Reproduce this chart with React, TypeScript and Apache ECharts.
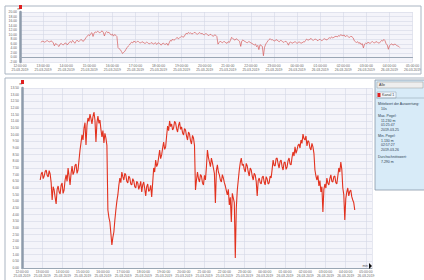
import React, { useEffect, useRef } from "react";
import * as echarts from "echarts";

// time tick labels (one per hour)
const tickLabels = [
  "12:00:00\n25.03.2019", "13:00:00\n25.03.2019", "14:00:00\n25.03.2019", "15:00:00\n25.03.2019",
  "16:00:00\n25.03.2019", "17:00:00\n25.03.2019", "18:00:00\n25.03.2019", "19:00:00\n25.03.2019",
  "20:00:00\n25.03.2019", "21:00:00\n25.03.2019", "22:00:00\n25.03.2019", "23:00:00\n25.03.2019",
  "00:00:00\n26.03.2019", "01:00:00\n26.03.2019", "02:00:00\n26.03.2019", "03:00:00\n26.03.2019",
  "04:00:00\n26.03.2019", "05:00:00\n26.03.2019",
];

// sampling of the recorded level (hours from 12:00)
const sampleStart = 0.9;
const sampleStep = 0.0492;

// water level in m
const levels = [
  6.60, 7.05, 7.20, 6.70, 6.90, 7.25, 7.35, 6.95, 6.83, 7.30,
  7.05, 6.40, 5.10, 6.10, 5.85, 5.30, 4.80, 5.90, 6.15, 5.70,
  5.55, 6.20, 6.38, 5.60, 5.85, 6.60, 6.98, 6.50, 7.50, 6.90,
  6.23, 7.10, 7.65, 7.00, 7.20, 7.70, 7.80, 7.10, 7.35, 8.10,
  8.85, 9.40, 9.98, 9.60, 10.50, 10.90, 9.23, 10.70, 11.25, 11.00,
  11.55, 11.20, 10.80, 11.35, 11.70, 11.10, 9.45, 10.90, 11.40, 10.85,
  11.10, 10.40, 9.83, 10.30, 9.38, 10.10, 9.75, 9.20, 4.35, 3.80,
  3.45, 2.60, 1.73, 2.30, 2.70, 3.60, 4.35, 5.00, 5.48, 6.20,
  6.75, 6.40, 7.20, 6.85, 6.60, 7.10, 6.98, 6.50, 6.38, 6.90,
  6.75, 6.30, 6.23, 6.70, 6.53, 6.10, 6.00, 6.50, 6.38, 5.90,
  6.15, 6.50, 5.70, 6.25, 6.45, 5.95, 5.40, 6.10, 6.30, 5.75,
  5.85, 6.20, 5.33, 6.40, 7.50, 7.20, 8.10, 7.60, 7.80, 8.30,
  8.85, 8.20, 8.48, 9.00, 9.45, 8.90, 9.08, 9.90, 10.65, 10.30,
  11.03, 10.60, 10.80, 10.35, 10.50, 11.00, 10.88, 10.45, 10.20, 10.70,
  10.95, 10.40, 10.58, 10.15, 9.98, 10.45, 10.35, 9.90, 9.60, 10.20,
  10.05, 9.55, 9.30, 9.95, 9.75, 9.20, 5.85, 6.60, 7.20, 6.70,
  6.45, 7.00, 6.90, 6.40, 6.23, 6.95, 6.60, 7.60, 8.85, 8.30,
  7.95, 7.60, 8.25, 7.90, 7.50, 7.10, 4.88, 7.30, 7.73, 7.20,
  6.98, 6.60, 6.45, 7.00, 6.75, 6.40, 6.15, 5.80, 5.48, 5.90,
  4.73, 5.30, 3.45, 5.60, 5.25, 4.90, 0.75, 4.50, 5.85, 6.60,
  7.35, 7.90, 8.25, 7.70, 7.80, 7.40, 7.20, 7.85, 7.65, 7.20,
  6.90, 7.50, 7.35, 6.90, 6.60, 7.10, 6.98, 6.50, 5.40, 6.55,
  6.75, 6.40, 6.30, 6.80, 6.90, 6.45, 6.23, 6.85, 6.68, 6.30,
  6.38, 6.90, 6.75, 7.40, 8.10, 7.70, 7.65, 8.20, 8.25, 7.80,
  7.50, 8.00, 8.10, 7.60, 7.35, 7.90, 7.95, 7.40, 7.58, 8.05,
  8.25, 7.80, 7.73, 8.30, 8.70, 8.40, 9.08, 8.60, 8.85, 9.20,
  9.30, 9.00, 9.60, 9.35, 10.05, 9.70, 9.60, 9.90, 9.15, 9.55,
  9.45, 9.00, 8.85, 9.35, 9.08, 8.60, 7.35, 6.90, 6.60, 6.95,
  6.15, 6.55, 5.70, 6.10, 4.20, 5.90, 6.30, 6.00, 6.75, 6.35,
  6.23, 6.70, 6.98, 6.50, 6.45, 6.85, 6.90, 6.40, 6.30, 6.90,
  7.50, 7.20, 7.95, 7.40, 6.00, 5.50, 3.60, 5.20, 5.70, 6.00,
  5.40, 5.75, 5.85, 5.35, 5.10, 4.90, 4.35,
];

// side panel texts
const panelLines = [
  { t: "Mittelwert der Auswertung:", indent: false },
  { t: "10s", indent: true },
  { t: "Max. Pegel:", indent: false },
  { t: "11.230 m", indent: true },
  { t: "01:25:47", indent: true },
  { t: "2019-03-25", indent: true },
  { t: "Min. Pegel:", indent: false },
  { t: "1.130 m", indent: true },
  { t: "02:57:27", indent: true },
  { t: "2019-03-26", indent: true },
  { t: "Durchschnittswert:", indent: false },
  { t: "7.290 m", indent: true },
];
const panelLineY = [104, 109, 116, 120.5, 125, 129.5, 136, 140.5, 145, 149.5, 157, 161.5];

const FONT = "Liberation Sans, Arial, sans-serif";

export default function App() {
  const ref = useRef<HTMLDivElement>(null);

  useEffect(() => {
    if (!ref.current) return;
    const chart = echarts.init(ref.current, null, { renderer: "svg" });
    const data = levels.map((v, i) => [sampleStart + i * sampleStep, v]);

    const xLabel = {
      fontSize: 3.4,
      lineHeight: 3.8,
      color: "#666",
      fontFamily: FONT,
      margin: 2,
      formatter: (v: number) => tickLabels[Math.round(v)] ?? "",
    };
    const yLabel = {
      fontSize: 3.4,
      color: "#666",
      fontFamily: FONT,
      margin: 3,
      formatter: (v: number) => v.toFixed(2),
    };
    const axisLineY = { show: true, lineStyle: { color: "#8e9bab", width: 2.5 } };
    const axisLineX = { show: true, lineStyle: { color: "#9aa6b4", width: 1 } };
    const split = { show: true, lineStyle: { color: "#d3d6e6", width: 0.6 } };

    const graphic: any[] = [
      { type: "rect", shape: { x: 5, y: 6, width: 416, height: 68 }, style: { fill: "none", stroke: "#aab5c2", lineWidth: 1 }, z: 1 },
      { type: "rect", shape: { x: 5, y: 78, width: 425, height: 210 }, style: { fill: "none", stroke: "#aab5c2", lineWidth: 1 }, z: 1 },
      { type: "rect", shape: { x: 19, y: 5, width: 3, height: 4 }, style: { fill: "#e02020" }, z: 10 },
      { type: "rect", shape: { x: 21, y: 80, width: 3, height: 4 }, style: { fill: "#e02020" }, z: 10 },
      // side panel
      { type: "rect", shape: { x: 375, y: 80, width: 55, height: 110 }, style: { fill: "#d8ebf8", stroke: "#8898a8", lineWidth: 0.8 }, z: 5 },
      { type: "rect", shape: { x: 377, y: 82, width: 46, height: 6 }, style: { fill: "#eeeeee", stroke: "#9a9a9a", lineWidth: 0.5 }, z: 6 },
      { type: "text", x: 379, y: 85, style: { text: "Alle", fontSize: 3.6, fill: "#333", fontFamily: FONT, verticalAlign: "middle" }, z: 7 },
      { type: "rect", shape: { x: 377, y: 92, width: 19, height: 6 }, style: { fill: "#f2f8fd", stroke: "#8898a8", lineWidth: 0.5 }, z: 6 },
      { type: "rect", shape: { x: 377.5, y: 93, width: 3, height: 4 }, style: { fill: "#e02020" }, z: 7 },
      { type: "text", x: 382, y: 95, style: { text: "Kanal 1", fontSize: 3.6, fill: "#333", fontFamily: FONT, verticalAlign: "middle" }, z: 7 },
      { type: "line", shape: { x1: 376, y1: 98, x2: 430, y2: 98 }, style: { stroke: "#8898a8", lineWidth: 0.5 }, z: 6 },
      // bottom-right unit marker
      { type: "text", x: 368, y: 265.5, style: { text: "min", fontSize: 3.4, fill: "#555", fontFamily: FONT, align: "right", verticalAlign: "middle" }, z: 7 },
      { type: "polygon", shape: { points: [[369, 263], [372, 266], [369, 269]] }, style: { fill: "#111" }, z: 7 },
    ];
    panelLines.forEach((l, i) => {
      graphic.push({
        type: "text",
        x: l.indent ? 381 : 378,
        y: panelLineY[i],
        style: { text: l.t, fontSize: 3.5, fill: "#2d3e50", fontFamily: FONT, verticalAlign: "middle" },
        z: 7,
      });
    });

    chart.setOption({
      animation: false,
      backgroundColor: "#ffffff",
      grid: [
        { left: 20, top: 12, width: 398, height: 50, show: true, backgroundColor: "#f4f4fa", borderWidth: 0 },
        { left: 22, top: 88, width: 350, height: 180, show: true, backgroundColor: "#f4f4fa", borderWidth: 0 },
      ],
      xAxis: [
        { type: "value", gridIndex: 0, min: 0, max: 17, interval: 1, axisLine: axisLineX, axisTick: { show: false }, axisLabel: xLabel, splitLine: split },
        { type: "value", gridIndex: 1, min: 0, max: 17.3, interval: 1, axisLine: axisLineX, axisTick: { show: false }, axisLabel: { ...xLabel, showMaxLabel: false }, splitLine: split },
      ],
      yAxis: [
        {
          type: "value", gridIndex: 0, min: -2, max: 20, interval: 2,
          name: "m", nameGap: 2, nameTextStyle: { fontSize: 3.4, color: "#666", align: "right" },
          axisLine: axisLineY, axisTick: { show: false }, axisLabel: yLabel, splitLine: split,
        },
        {
          type: "value", gridIndex: 1, min: 0, max: 13.5, interval: 0.5,
          name: "m", nameGap: 3, nameTextStyle: { fontSize: 3.4, color: "#666", align: "right" },
          axisLine: axisLineY, axisTick: { show: false }, axisLabel: yLabel, splitLine: split,
        },
      ],
      series: [
        { type: "line", xAxisIndex: 0, yAxisIndex: 0, data, symbol: "none", lineStyle: { color: "#d65a5a", width: 0.7 } },
        { type: "line", xAxisIndex: 1, yAxisIndex: 1, data, symbol: "none", lineStyle: { color: "#e2321f", width: 1.1 } },
      ],
      graphic,
    });
    return () => chart.dispose();
  }, []);

  return (
    <div
      ref={ref}
      style={{ position: "fixed", left: 0, top: 0, width: 424, height: 280, background: "#fff" }}
    />
  );
}
